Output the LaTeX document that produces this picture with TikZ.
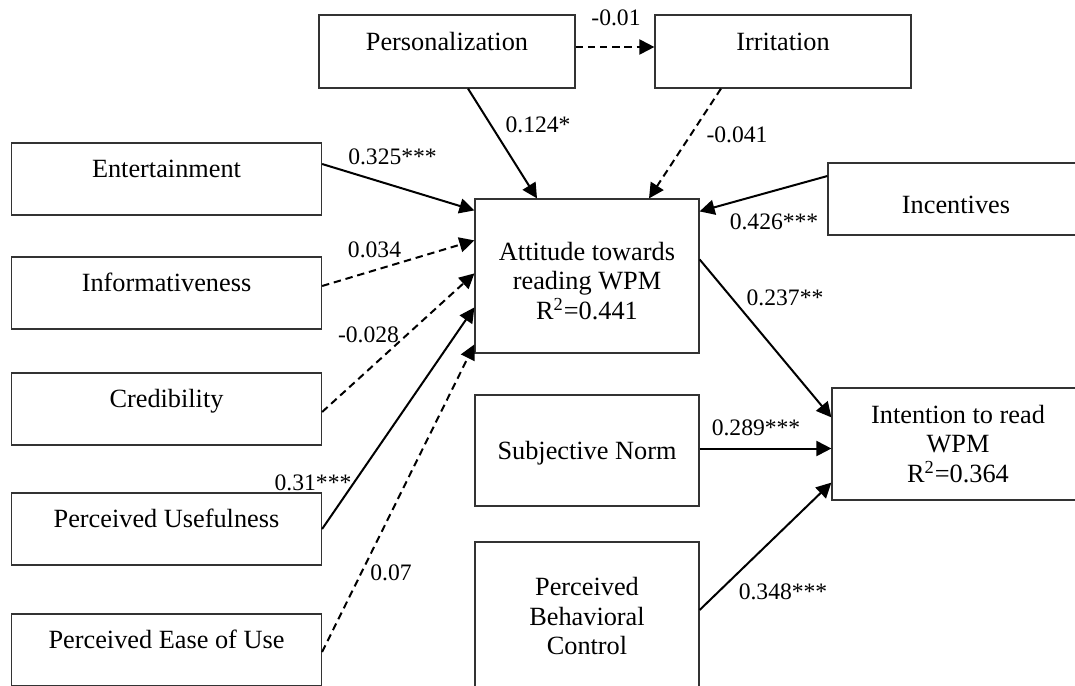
\documentclass[tikz,border=0pt]{standalone}
\usepackage{fontspec}
\setmainfont{Liberation Serif}
\usetikzlibrary{arrows.meta,positioning,calc}
\newcommand{\boxfont}{\fontsize{13.15}{14.8}\selectfont}
\newcommand{\coeffont}{\fontsize{11.8}{13}\selectfont}

\begin{document}
\begin{tikzpicture}
[x=0.5pt,y=-0.5pt,
construct/.style={draw=black!80,line width=0.6pt,inner sep=1pt,align=center,font=\boxfont},
hightext/.style={text height=9pt,text depth=10.4pt},
lowtext/.style={text height=15pt,text depth=0.4pt},
midtext/.style={text height=9pt,text depth=0.4pt},
leftbox/.style={construct,hightext,minimum width=155pt,minimum height=36pt},
midbox/.style={construct,minimum width=112pt},
edge/.style={black,line width=1pt},
edgearr/.style={edge,-{Triangle[length=7.5pt,width=7.5pt]}},
dasharr/.style={edgearr,dash pattern=on 3.7pt off 2.4pt},
coef/.style={inner sep=0pt,font=\coeffont}]
\useasboundingbox (0,0) rectangle (1075,685);
%%%%%%%%%%
%% antecedents on top
\node (pers) [construct,hightext,minimum width=128pt,minimum height=36.5pt] at (447,51.5) {Personalization};
\node (irr) [construct,hightext,minimum width=128pt,minimum height=36.5pt,right=39.4pt of pers] {Irritation};
%% left column
\node (ent) [leftbox] at (166.5,179) {Entertainment};
\node (info) [leftbox,below=20.4pt of ent] {Informativeness};
\node (cred) [leftbox,below=21.4pt of info] {Credibility};
\node (pu) [leftbox,below=23.4pt of cred] {Perceived Usefulness};
\node (peou) [leftbox,below=23.9pt of pu] {Perceived Ease of Use};
%% middle column
\node (att) [midbox,minimum height=77pt] at (587,276) {\rule{0pt}{14pt}Attitude towards\\reading WPM\\R\textsuperscript{2}=0.441};
\node (sn) [midbox,midtext,minimum height=55.5pt,below=20.4pt of att] {Subjective Norm};
\node (pbc) [midbox,minimum height=74pt,below=17.4pt of sn] {Perceived\\Behavioral\\Control};
%% right column
\node (inc) [construct,lowtext,minimum width=128pt,minimum height=36pt] at (956,199) {Incentives};
\node (int) [construct,minimum width=126pt,minimum height=56pt] at (958,444) {Intention to read\\WPM\\R\textsuperscript{2}=0.364};
%%
\draw[dasharr] ($(pers.east)+(0,-4.5)$) -- ($(irr.west)+(0,-4.5)$);
\draw[edgearr] ($(pers.south)+(21,0)$) -- ($(att.north)+(-50,0)$);
\draw[dasharr] ($(irr.south)+(-62,0)$) -- ($(att.north)+(62,0)$);
\draw[edgearr] ($(ent.east)+(0,-15)$) -- ($(att.north west)+(0,12)$);
\draw[dasharr] ($(info.east)+(0,-7)$) -- ($(att.north west)+(0,42)$);
\draw[dasharr] ($(cred.east)+(0,3)$) -- ($(att.north west)+(0,75)$);
\draw[edgearr] (pu.east) -- ($(att.north west)+(0,109)$);
\draw[dasharr] ($(peou.east)+(0,2)$) -- ($(att.north west)+(0,146)$);
\draw[edgearr] ($(inc.west)+(0,-23)$) -- ($(att.north east)+(0,13)$);
%%
\draw[edgearr] ($(att.north east)+(0,61)$) -- ($(int.north west)+(0,30)$);
\draw[edgearr] ($(sn.east)+(0,-2)$) -- ($(sn.east -| int.west)+(0,-2)$);
\draw[edgearr] ($(pbc.east)+(0,-6)$) -- ($(int.south west)+(0,-18)$);
%% path coefficients
\node (c-pi) [coef] at (616,18) {-0.01};
\node (c-pa) [coef] at (538,125) {0.124*};
\node (c-ia) [coef] at (737,135) {-0.041};
\node (c-ea) [coef] at (392.5,157) {0.325***};
\node (c-fa) [coef] at (374.5,250) {0.034};
\node (c-ca) [coef] at (368.5,335) {-0.028};
\node (c-ua) [coef] at (313,483) {0.31***};
\node (c-oa) [coef] at (391,573) {0.07};
\node (c-na) [coef] at (774,222) {0.426***};
\node (c-at) [coef] at (785,298) {0.237**};
\node (c-st) [coef] at (756,428) {0.289***};
\node (c-bt) [coef] at (783,592) {0.348***};
\end{tikzpicture}
\end{document}
